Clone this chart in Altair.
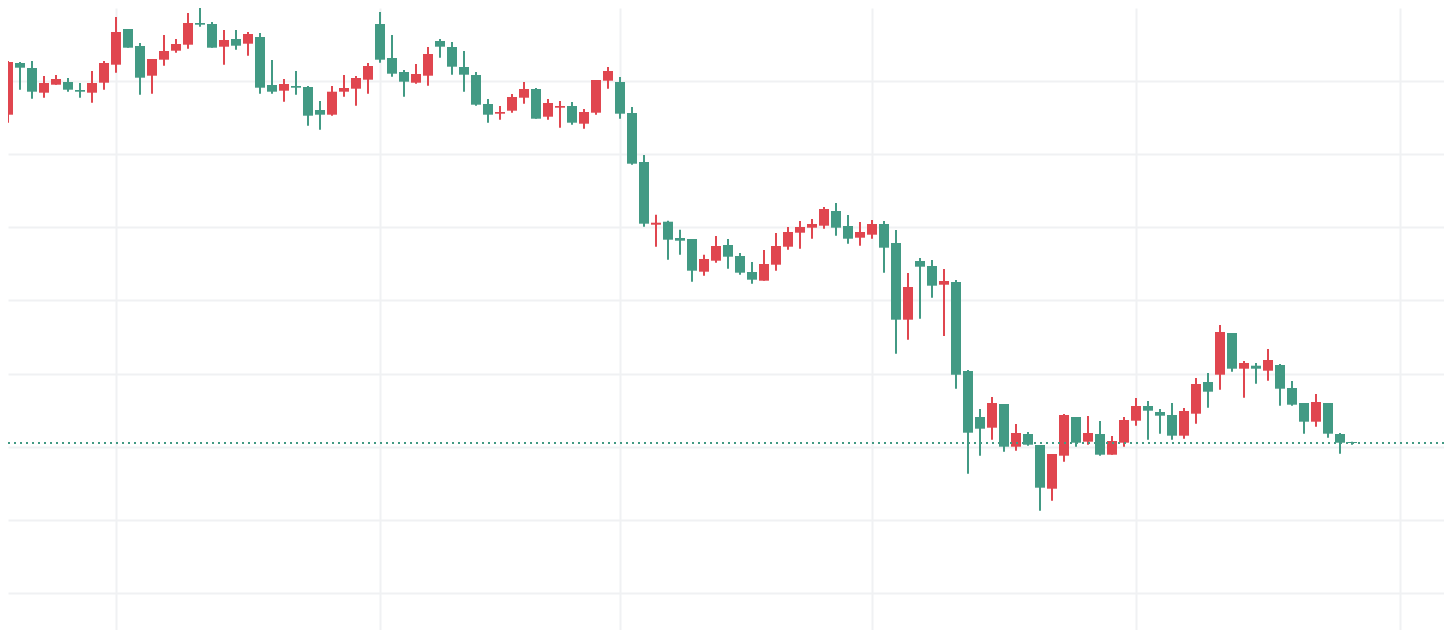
import altair as alt
import pandas as pd

# Price values (arbitrary units), one entry per daily candle
opens = [535.3, 587, 582, 557.3, 565.3, 568, 560, 557.3, 567.3, 585.3,
         621, 604, 574.3, 590.3, 599.3, 605.3, 627, 626, 603.3, 611,
         606.3, 613, 565, 559.3, 564, 563, 540, 535.3, 558.3, 561.3,
         570.3, 626, 592, 578, 567.3, 574.3, 609, 603, 583, 575,
         546, 536.3, 539.3, 552.3, 561, 533.3, 542.3, 544, 526.3, 537.3,
         569.3, 568, 537, 488, 425.3, 428.3, 412, 411, 378.3, 389.3,
         405, 394, 378, 369.3, 385.3, 403.3, 417.3, 422.3, 424.3, 439,
         424, 412.3, 415.3, 426, 407, 330.3, 389, 384, 365.3, 368,
         279, 233, 222.3, 246, 203.3, 216, 205, 161.3, 194.3, 233,
         208.3, 216, 195.3, 207.3, 229.3, 244, 238, 235, 214.3, 236.3,
         268, 275.3, 317, 281.3, 284.3, 279.3, 285, 262, 247, 228.3,
         247, 216, 208]
highs = [589, 588, 589, 574, 575, 572, 567, 579, 589, 633,
         621, 607, 591, 615, 611, 637, 652, 628, 620, 620,
         618, 617, 590, 571, 579, 564, 549, 564, 575, 574,
         587, 638, 615, 580, 586, 603, 611, 608, 599, 578,
         551, 544, 556, 568, 562, 551, 549, 548, 541, 570,
         583, 573, 543, 495, 435.3, 429.3, 420.3, 411, 395.3, 414,
         411, 397, 388, 400, 417, 423, 429, 431, 443, 447,
         435, 428, 430, 429, 420, 377, 392, 390, 381, 370,
         280, 241, 253, 246, 226, 218, 205, 196, 236, 233,
         234, 229, 214, 233, 252, 249, 241, 247, 242, 272,
         277, 325, 317, 289, 287, 301, 286, 269, 247, 256,
         247, 217, 208.3]
lows = [527.3, 560.3, 551.3, 552.3, 565.3, 558.3, 552.3, 547.3, 560.3, 577.3,
        602.3, 555.3, 556.3, 584.3, 597.3, 601.3, 623.3, 602.3, 585.3, 600.3,
        594.3, 556.3, 556.3, 548.3, 555.3, 524.3, 520.3, 534.3, 553.3, 544.3,
        556.3, 587.3, 573.3, 553.3, 566.3, 564.3, 592.3, 575.3, 558.3, 544.3,
        527.3, 530.3, 537.3, 546.3, 531.3, 530.3, 522.3, 525.3, 521.3, 535.3,
        561.3, 531.3, 485.3, 423.3, 403.3, 390.3, 395.3, 368.3, 374.3, 387.3,
        381.3, 375.3, 366.3, 369.3, 379.3, 400.3, 401.3, 411.3, 421.3, 414.3,
        406.3, 404.3, 411.3, 377.3, 296.3, 310.3, 331.3, 352.3, 314, 261.3,
        176.3, 194.3, 210.3, 198.3, 199.3, 204.3, 139.3, 149.3, 188.3, 203.3,
        205.3, 194.3, 195.3, 203.3, 224.3, 210.3, 216.3, 210.3, 211.3, 226.3,
        242.3, 260.3, 278.3, 252.3, 266.3, 269.3, 244.3, 244.3, 216.3, 223.3,
        212.3, 196.3, 205.3]
closes = [588, 582.3, 558.3, 567, 571, 560.3, 558.3, 567, 587, 618,
          602.3, 572.3, 591, 599, 606, 627, 625.3, 602.3, 610, 604.3,
          616, 562.3, 558.3, 566, 562.3, 534.3, 535.3, 558.3, 562, 572,
          584, 590.3, 576.3, 568.3, 576, 596, 603.3, 583.3, 575.3, 545.3,
          535.3, 538, 553, 561, 531.3, 547, 544, 527.3, 538, 570,
          579, 536.3, 486.3, 426.3, 427.3, 410.3, 409.3, 379.3, 391, 404,
          393.3, 377.3, 370.3, 386, 404, 418, 423, 426, 441, 422.3,
          411.3, 418, 426, 402.3, 330.3, 363, 383.3, 364.3, 369, 275.3,
          217.3, 221.3, 247, 203.3, 217, 205.3, 162.3, 196, 235, 207.3,
          217, 195.3, 209, 230, 244, 239.3, 234.3, 214.3, 239, 266,
          258.3, 318, 281.3, 287, 281.3, 290, 261.3, 245.3, 228.3, 248,
          216.3, 207.3, 207]

# Month boundaries (candle index) and horizontal grid prices
month_starts = [9, 31, 51, 72, 94, 116]
grid_prices = [56.9, 130.1, 203.3, 276.5, 349.7, 422.9, 496.1, 569.3]

UP = "#e0464f"
DOWN = "#429a84"
GRID = "#f0f1f3"

df = pd.DataFrame({
    "i": list(range(len(opens))),
    "open": opens,
    "high": highs,
    "low": lows,
    "close": closes,
})

xscale = alt.Scale(domain=[0, 1436 / 12], nice=False, zero=False, padding=0)
yscale = alt.Scale(domain=[20, 642], nice=False, zero=False, padding=0)


def xaxis():
    return alt.Axis(values=month_starts, grid=True, gridColor=GRID, gridWidth=2,
                    labels=False, ticks=False, domain=False, title=None)


def yaxis():
    return alt.Axis(values=grid_prices, grid=True, gridColor=GRID, gridWidth=2,
                    labels=False, ticks=False, domain=False, title=None)


color = alt.Color("dir:N", scale=alt.Scale(domain=["up", "down"], range=[UP, DOWN]),
                  legend=None)

base = alt.Chart(df).transform_calculate(
    dir="datum.close > datum.open ? 'up' : 'down'"
)

wicks = base.mark_rule(strokeWidth=2, clip=True).encode(
    x=alt.X("i:Q", scale=xscale, axis=xaxis()),
    y=alt.Y("low:Q", scale=yscale, axis=yaxis()),
    y2="high:Q",
    color=color,
)

bodies = base.mark_bar(size=10, clip=True).encode(
    x=alt.X("i:Q", scale=xscale, axis=xaxis()),
    y=alt.Y("open:Q", scale=yscale, axis=yaxis()),
    y2="close:Q",
    color=color,
)

last = alt.Chart(pd.DataFrame({"p": [closes[-1]]})).mark_rule(
    color=DOWN, strokeWidth=2, strokeDash=[2, 4], clip=True
).encode(y=alt.Y("p:Q", scale=yscale, axis=yaxis()))

chart = alt.layer(wicks, bodies, last).properties(
    width=1436, height=622, padding=0, background="white",
    autosize=alt.AutoSizeParams(type="none"),
).configure_view(strokeWidth=0)

chart.save("out.html", embed_options={"renderer": "svg", "actions": False})
